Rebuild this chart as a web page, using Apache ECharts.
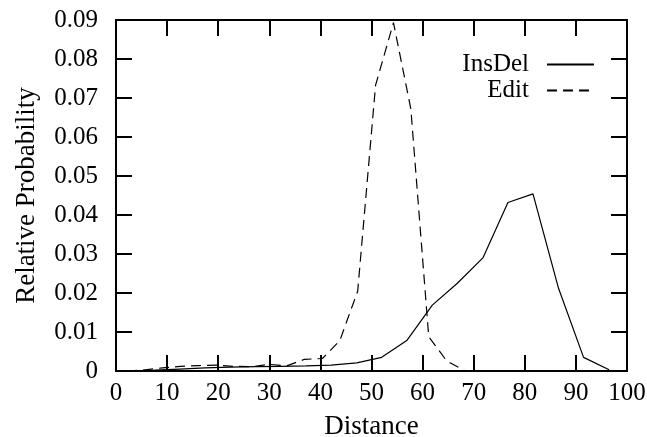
<!DOCTYPE html>
<html>
<head>
<meta charset="utf-8">
<script src="https://cdn.jsdelivr.net/npm/echarts@6/dist/echarts.min.js"></script>
<style>
html,body{margin:0;padding:0;background:#fff;}
#chart{width:647px;height:437px;}
</style>
</head>
<body>
<div id="chart"></div>
<script>
// Data
var seriesNames = ['InsDel', 'Edit'];
var insDelX = [2.6, 7.5, 12.5, 17.4, 22.4, 27.3, 32.2, 37.2, 42.1, 47.1, 52.0, 56.9, 61.9, 66.8, 71.8, 76.7, 81.6, 86.6, 91.5, 96.5];
var insDelY = [0, 0.0002, 0.0005, 0.0008, 0.0010, 0.0011, 0.0012, 0.0013, 0.0015, 0.0021, 0.0035, 0.0078, 0.0169, 0.0225, 0.0290, 0.0432, 0.0454, 0.0212, 0.0035, 0.0003];
var editX = [2.2, 5.7, 9.1, 12.6, 16.1, 19.6, 23.0, 26.5, 30.0, 33.4, 36.9, 40.4, 43.8, 47.3, 50.8, 54.3, 57.7, 61.2, 64.7, 68.1];
var editY = [0, 0.0003, 0.0008, 0.0012, 0.0014, 0.0015, 0.0012, 0.0011, 0.0017, 0.0013, 0.0030, 0.0032, 0.0078, 0.0205, 0.0733, 0.0893, 0.0672, 0.0088, 0.0026, 0.0002];
var xTicks = [0, 10, 20, 30, 40, 50, 60, 70, 80, 90, 100];
var yTicks = [0, 0.01, 0.02, 0.03, 0.04, 0.05, 0.06, 0.07, 0.08, 0.09];
var xName = 'Distance';
var yName = 'Relative Probability';

function pairs(xs, ys) { return xs.map(function (x, i) { return [x, ys[i]]; }); }

var FONT = 'Liberation Serif';
var X_MIN = xTicks[0], X_MAX = xTicks[xTicks.length - 1];
var Y_MIN = yTicks[0], Y_MAX = yTicks[yTicks.length - 1];
function mainLine() { return { show: true, lineStyle: { color: '#000', width: 2 } }; }
function mirrorLine() { return { show: true, onZero: false, lineStyle: { color: '#000', width: 2 } }; }
function tick() { return { show: true, inside: true, length: 16, lineStyle: { color: '#000', width: 2 } }; }
function tickAxisX(pos) {
  return { type: 'value', position: pos, min: X_MIN, max: X_MAX, interval: 10,
    axisLine: mirrorLine(), axisTick: tick(), splitLine: { show: false }, axisLabel: { show: false } };
}
function tickAxisY(pos) {
  return { type: 'value', position: pos, min: Y_MIN, max: Y_MAX, interval: 0.01,
    axisLine: mirrorLine(), axisTick: tick(), splitLine: { show: false }, axisLabel: { show: false } };
}

var chart = echarts.init(document.getElementById('chart'), null, { renderer: 'canvas' });
chart.setOption({
  animation: false,
  backgroundColor: '#fff',
  grid: { left: 116, right: 20, top: 20, bottom: 66, outerBoundsMode: 'none' },
  legend: {
    data: seriesNames,
    orient: 'vertical',
    align: 'right',
    right: 47,
    top: 47,
    itemWidth: 47,
    itemHeight: 14,
    itemGap: 1,
    selectedMode: false,
    itemStyle: { opacity: 0 },
    textStyle: { fontFamily: FONT, fontSize: 25, color: '#000', padding: [0, 13, 0, 0] }
  },
  xAxis: [{
    type: 'value', min: X_MIN, max: X_MAX, interval: 10,
    name: xName, nameLocation: 'middle', nameGap: 42,
    nameTextStyle: { fontFamily: FONT, fontSize: 27, color: '#000' },
    axisLine: mainLine(), axisTick: tick(), splitLine: { show: false },
    axisLabel: { fontFamily: FONT, fontSize: 25, color: '#000', margin: 10 }
  }, tickAxisX('top'), tickAxisX('bottom')],
  yAxis: [{
    type: 'value', min: Y_MIN, max: Y_MAX, interval: 0.01,
    name: yName, nameLocation: 'middle', nameGap: 76,
    nameTextStyle: { fontFamily: FONT, fontSize: 27, color: '#000' },
    axisLine: mainLine(), axisTick: tick(), splitLine: { show: false },
    axisLabel: { fontFamily: FONT, fontSize: 25, color: '#000', margin: 18,
      formatter: function (v) { return v === 0 ? '0' : v.toFixed(2); } }
  }, tickAxisY('right'), tickAxisY('left')],
  series: [{
    name: seriesNames[0], type: 'line', xAxisIndex: 0, yAxisIndex: 0,
    data: pairs(insDelX, insDelY), symbol: 'none', showSymbol: false,
    lineStyle: { color: '#000', width: 1.2, type: 'solid' },
    itemStyle: { color: '#000' }
  }, {
    name: seriesNames[1], type: 'line', xAxisIndex: 0, yAxisIndex: 0,
    data: pairs(editX, editY), symbol: 'none', showSymbol: false,
    lineStyle: { color: '#000', width: 1.2, type: [10, 6] },
    itemStyle: { color: '#000' }
  }]
});
</script>
</body>
</html>
